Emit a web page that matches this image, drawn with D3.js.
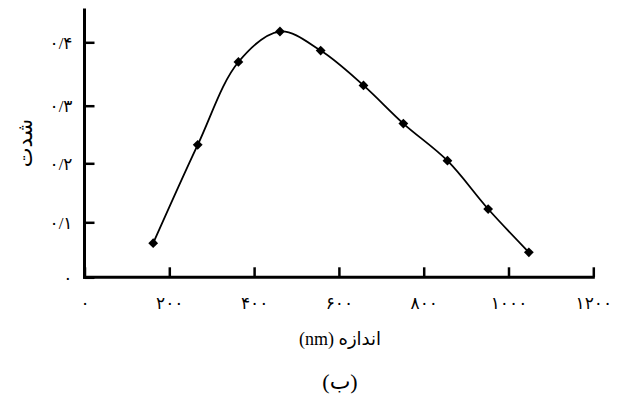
<!DOCTYPE html>
<html>
<head>
<meta charset="utf-8">
<script src="https://cdn.jsdelivr.net/npm/d3@7"></script>
<style>
  html, body { margin: 0; padding: 0; background: #fff; }
  svg { display: block; }
  text { font-family: "Liberation Serif", "DejaVu Sans", serif; fill: #000; }
</style>
</head>
<body>
<svg id="chart" width="622" height="404"></svg>
<script>
// Particle size (nm) and intensity
const sizes = [162, 267, 363, 461, 557, 658, 752, 856, 952, 1048];
const intensity = [0.062, 0.232, 0.369, 0.417, 0.387, 0.332, 0.269, 0.2045, 0.1225, 0.0455];

const xTicks = [0, 200, 400, 600, 800, 1000, 1200];
const yTicks = [0, 0.1, 0.2, 0.3, 0.4];

const xTitle = "اندازه (nm)";
const yTitle = "شدت";
const caption = "(ب)";

const faDigits = "۰۱۲۳۴۵۶۷۸۹";
const toFa = s => String(s).replace(/\d/g, c => faDigits[+c]);
const fmtY = v => v === 0 ? toFa(0) : toFa(d3.format(".1f")(v)).replace(".", "/");

const svg = d3.select("#chart");

const x = d3.scaleLinear().domain([0, 1200]).range([84.5, 593.3]);
// the printed value axis is spaced slightly unevenly, so it is piecewise
const y = d3.scaleLinear().domain(yTicks).range([277.3, 222.3, 163.3, 105.7, 42.3]);
const yMax = 0.451;

// x axis
const gx = svg.append("g").attr("transform", `translate(0,${y(0)})`)
  .call(d3.axisBottom(x).tickValues(xTicks).tickSize(-10).tickSizeOuter(0).tickFormat(toFa));
gx.select(".domain").remove();
gx.selectAll(".tick line").attr("stroke", "#000").attr("stroke-width", 2.5);
gx.selectAll(".tick text").attr("y", 26).attr("dy", "0.35em").style("font-size", "17px");

// y axis
const gy = svg.append("g").attr("transform", `translate(${x(0)},0)`)
  .call(d3.axisLeft(y).tickValues(yTicks).tickSize(-10).tickSizeOuter(0).tickFormat(fmtY));
gy.select(".domain").remove();
gy.selectAll(".tick line").attr("stroke", "#000").attr("stroke-width", 2.5);
gy.selectAll(".tick text").attr("x", -12).attr("dy", "0.35em").style("font-size", "17px");

// axis lines
svg.append("line")
  .attr("x1", x(0)).attr("x2", x(1200)).attr("y1", y(0)).attr("y2", y(0))
  .attr("stroke", "#000").attr("stroke-width", 3).attr("stroke-linecap", "square");
svg.append("line")
  .attr("x1", x(0)).attr("x2", x(0)).attr("y1", y(0)).attr("y2", y(yMax))
  .attr("stroke", "#000").attr("stroke-width", 3).attr("stroke-linecap", "square");

// smoothed curve
const pts = sizes.map((s, i) => [s, intensity[i]]);
svg.append("path")
  .datum(pts)
  .attr("fill", "none").attr("stroke", "#000").attr("stroke-width", 1.8)
  .attr("d", d3.line().x(d => x(d[0])).y(d => y(d[1])).curve(d3.curveCatmullRom.alpha(0.5)));

// diamond markers
const diamond = d3.symbol().type(d3.symbolSquare).size(48);
svg.append("g").selectAll("path").data(pts).join("path")
  .attr("d", diamond)
  .attr("transform", d => `translate(${x(d[0])},${y(d[1])}) rotate(45)`)
  .attr("fill", "#000");

// titles
svg.append("text")
  .attr("x", 340).attr("y", 339).attr("dy", "0.35em")
  .attr("text-anchor", "middle").attr("direction", "rtl")
  .style("font-size", "18px").text(xTitle);

svg.append("text")
  .attr("transform", "translate(25,143) rotate(-90)")
  .attr("dy", "0.35em").attr("text-anchor", "middle").attr("direction", "rtl")
  .style("font-size", "21px").text(yTitle);

svg.append("text")
  .attr("x", 340).attr("y", 381).attr("dy", "0.35em")
  .attr("text-anchor", "middle").attr("direction", "rtl")
  .style("font-size", "22px").text(caption);
</script>
</body>
</html>
